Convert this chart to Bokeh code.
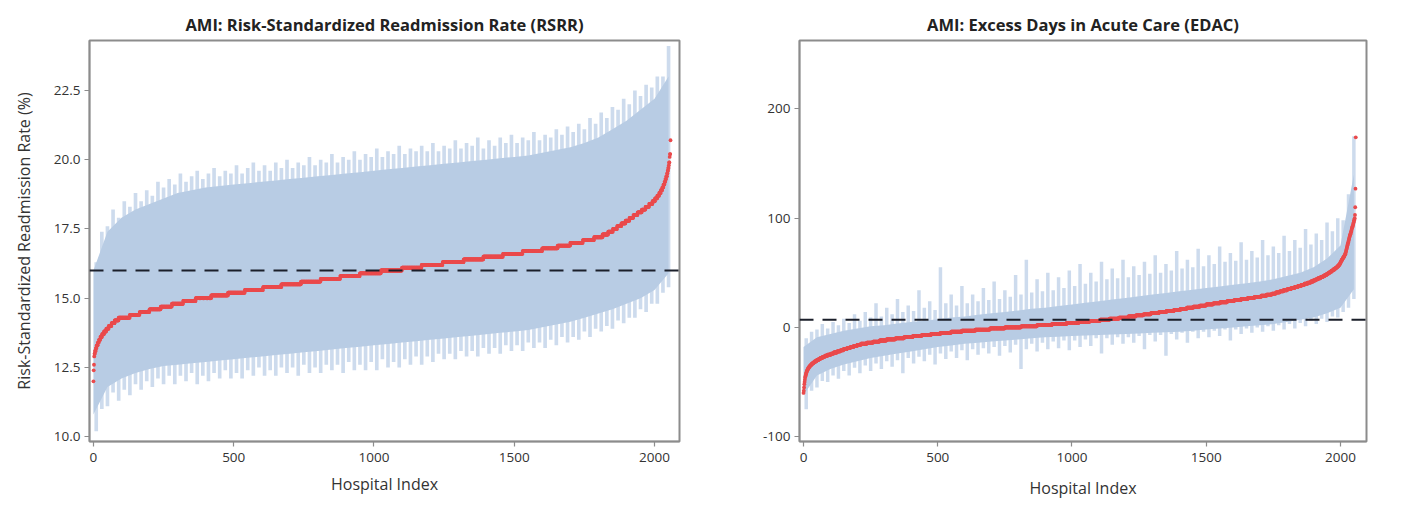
import numpy as np
from bokeh.plotting import figure
from bokeh.layouts import row
from bokeh.models import Span, Label, FixedTicker, Range1d, NumeralTickFormatter
from bokeh.embed import file_html
from bokeh.resources import INLINE

# ---------------- RSRR (left panel) ----------------
rsrr_title = "AMI: Risk-Standardized Readmission Rate (RSRR)"
rsrr_ylabel = "Risk-Standardized Readmission Rate (%)"
rsrr_average = 16.0
rsrr_yticks = [10.0, 12.5, 15.0, 17.5, 20.0, 22.5]

# sorted hospital RSRR values as (level, number of hospitals at that level)
rsrr_levels = [12.0, 12.4, 12.6, 12.9,
               13.0, 13.1, 13.2, 13.3, 13.4, 13.5, 13.6, 13.7, 13.8, 13.9,
               14.0, 14.1, 14.2, 14.3, 14.4, 14.5, 14.6, 14.7, 14.8, 14.9,
               15.0, 15.1, 15.2, 15.3, 15.4, 15.5, 15.6, 15.7, 15.8, 15.9,
               16.0, 16.1, 16.2, 16.3, 16.4, 16.5, 16.6, 16.7, 16.8, 16.9,
               17.0, 17.1, 17.2, 17.3, 17.4, 17.5, 17.6, 17.7, 17.8, 17.9,
               18.0, 18.1, 18.2, 18.3, 18.4, 18.5, 18.6, 18.7, 18.8, 18.9,
               19.0, 19.1, 19.2, 19.3, 19.4, 19.5, 19.6, 19.7, 19.8, 19.9,
               20.1, 20.2, 20.7]
rsrr_counts = [1, 1, 1, 1,
               2, 3, 3, 4, 4, 5, 6, 7, 8, 9,
               10, 11, 14, 40, 35, 35, 40, 40, 40, 45,
               55, 60, 60, 65, 65, 70, 70, 70, 70, 75,
               75, 70, 75, 75, 70, 70, 70, 70, 55, 45,
               45, 40, 30, 20, 17, 15, 15, 15, 14, 14,
               15, 15, 13, 13, 12, 9, 8, 7, 6, 5,
               4, 4, 3, 3, 3, 2, 2, 2, 1, 2,
               1, 2, 1]

# interval extremes, one value per block of 20 hospitals (index 0, 20, ... 2040)
rsrr_upper_tip = [16.3, 17.4, 17.6, 18.2, 17.9, 18.5, 18.3, 18.8, 18.5, 18.9,
                  18.7, 19.2, 19.0, 19.3, 19.1, 19.5, 19.2, 19.4, 19.6, 19.3,
                  19.5, 19.7, 19.4, 19.6, 19.5, 19.8, 19.5, 19.7, 19.9, 19.6,
                  19.8, 19.6, 19.9, 19.7, 20.0, 19.7, 19.9, 19.8, 20.1, 19.8,
                  20.0, 19.9, 20.2, 19.9, 20.1, 20.0, 20.3, 20.0, 20.2, 20.1,
                  20.4, 20.1, 20.3, 20.2, 20.5, 20.2, 20.4, 20.3, 20.5, 20.3,
                  20.6, 20.3, 20.5, 20.4, 20.7, 20.4, 20.6, 20.5, 20.8, 20.4,
                  20.7, 20.5, 20.8, 20.6, 20.9, 20.6, 20.8, 20.7, 21.0, 20.7,
                  20.9, 20.8, 21.1, 20.9, 21.2, 21.0, 21.3, 21.1, 21.5, 21.3,
                  21.7, 21.5, 21.9, 21.8, 22.2, 22.0, 22.5, 22.3, 22.7, 22.6,
                  23.0, 23.0, 24.1]
rsrr_lower_tip = [10.2, 11.0, 11.1, 11.6, 11.3, 11.7, 11.5, 11.9, 11.7, 12.0,
                  11.8, 12.1, 11.9, 12.2, 11.9, 12.2, 12.0, 12.3, 11.9, 12.2,
                  12.0, 12.3, 12.1, 12.4, 12.1, 12.3, 12.1, 12.4, 12.2, 12.5,
                  12.2, 12.4, 12.2, 12.5, 12.3, 12.5, 12.2, 12.6, 12.3, 12.5,
                  12.3, 12.6, 12.4, 12.6, 12.3, 12.7, 12.4, 12.6, 12.4, 12.7,
                  12.4, 12.8, 12.5, 12.7, 12.5, 12.8, 12.6, 12.9, 12.6, 12.9,
                  12.7, 13.0, 12.8, 13.0, 12.8, 13.1, 12.9, 13.1, 12.9, 13.2,
                  13.0, 13.2, 13.0, 13.3, 13.1, 13.3, 13.1, 13.4, 13.2, 13.4,
                  13.2, 13.5, 13.3, 13.6, 13.4, 13.6, 13.5, 13.8, 13.6, 13.9,
                  13.8, 14.0, 13.9, 14.2, 14.1, 14.3, 14.3, 14.6, 14.5, 14.8,
                  14.8, 15.2, 15.4]
# dense part of the intervals, every 50 hospitals (index 0, 50, ... 2050)
rsrr_upper_body = [16.0, 17.4, 17.9, 18.2, 18.4, 18.6, 18.8, 18.9, 19.0, 19.05,
                   19.1, 19.15, 19.2, 19.25, 19.3, 19.35, 19.4, 19.45, 19.5, 19.55,
                   19.6, 19.65, 19.7, 19.75, 19.8, 19.85, 19.9, 19.95, 20.0, 20.05,
                   20.1, 20.15, 20.25, 20.35, 20.45, 20.6, 20.8, 21.1, 21.4, 21.8,
                   22.2, 23.0]
rsrr_lower_body = [10.8, 11.8, 12.1, 12.3, 12.45, 12.55, 12.6, 12.65, 12.7, 12.75,
                   12.8, 12.85, 12.9, 12.95, 13.0, 13.05, 13.1, 13.15, 13.2, 13.25,
                   13.3, 13.35, 13.4, 13.45, 13.5, 13.55, 13.6, 13.65, 13.7, 13.75,
                   13.8, 13.85, 13.95, 14.05, 14.15, 14.3, 14.45, 14.6, 14.8, 15.0,
                   15.3, 15.9]

# ---------------- EDAC (right panel) ----------------
edac_title = "AMI: Excess Days in Acute Care (EDAC)"
edac_average = 7.0
edac_yticks = [-100, 0, 100, 200]

edac_levels = [-60, -58, -55, -52, -50, -48, -46, -45, -44, -43, -42, -41,
               -40, -39, -38, -37, -36, -35, -34, -33, -32, -31, -30, -29, -28, -27, -26, -25, -24, -23, -22, -21,
               -20, -19, -18, -17, -16, -15, -14, -13, -12, -11, -10, -9, -8, -7, -6, -5, -4, -3, -2, -1,
               0, 1, 2, 3, 4, 5, 6, 7, 8, 9, 10, 11, 12, 13, 14, 15, 16, 17, 18, 19,
               20, 21, 22, 23, 24, 25, 26, 27, 28, 29, 30, 31, 32, 33, 34, 35, 36, 37, 38, 39,
               40, 41, 42, 43, 44, 45, 46, 47, 48, 49, 50, 51, 52, 53, 54, 55, 56, 57, 58, 59,
               60, 61, 62, 63, 64, 65, 66, 67, 68, 69, 70, 71, 72, 73, 74, 75, 76, 77, 78, 79,
               80, 81, 82, 83, 84, 85, 86, 87, 88, 89, 90, 91, 92, 93, 94, 95, 96, 97, 98, 99,
               100, 103, 110, 127, 174]
edac_counts = [1, 1, 1, 1, 1, 1, 1, 1, 1, 1, 1, 1,
               2, 2, 2, 3, 3, 4, 4, 5, 6, 6, 7, 7, 8, 9, 10, 12, 11, 12, 12, 12,
               13, 12, 13, 13, 14, 22, 23, 25, 25, 33, 33, 32, 33, 35, 35, 40, 40, 50, 55, 55,
               60, 60, 55, 55, 45, 40, 40, 35, 35, 35, 28, 28, 28, 30, 28, 28, 24, 24, 24, 24,
               24, 26, 26, 26, 26, 26, 25, 25, 25, 20, 20, 15, 14, 14, 14, 14, 14, 12, 12, 12,
               12, 12, 9, 9, 9, 9, 9, 7, 7, 6, 6, 6, 6, 6, 5, 5, 4, 3, 3, 2,
               2, 2, 3, 2, 3, 2, 2, 2, 1, 1, 1, 1, 1, 1, 1, 1, 1, 1, 1, 1,
               1, 1, 1, 1, 1, 2, 1, 1, 1, 1, 1, 1, 2, 1, 1, 1, 1, 1, 1, 1,
               1, 1, 1, 1, 1]

edac_upper_tip = [-10, -4, -2, 3, -1, 5, 2, 8, 4, 12,
                  6, 14, 9, 22, 10, 18, 12, 26, 14, 20,
                  15, 34, 18, 24, 16, 55, 22, 30, 20, 38,
                  22, 30, 24, 36, 25, 42, 26, 34, 28, 48,
                  30, 62, 32, 44, 33, 50, 34, 46, 36, 52,
                  38, 58, 40, 50, 42, 60, 44, 54, 45, 62,
                  46, 56, 48, 60, 49, 66, 50, 58, 52, 70,
                  54, 62, 55, 72, 56, 66, 58, 74, 60, 68,
                  61, 78, 62, 70, 64, 80, 66, 74, 68, 84,
                  70, 80, 73, 90, 76, 86, 80, 96, 88, 100,
                  98, 122, 175]
edac_lower_tip = [-75, -58, -55, -49, -50, -44, -47, -40, -44, -37,
                  -42, -35, -40, -33, -38, -31, -36, -30, -42, -28,
                  -33, -27, -31, -25, -34, -24, -29, -22, -28, -21,
                  -30, -20, -25, -19, -24, -18, -26, -17, -23, -16,
                  -38, -20, -15, -22, -14, -20, -13, -19, -12, -21,
                  -12, -18, -11, -17, -10, -24, -10, -16, -9, -15,
                  -9, -14, -8, -20, -7, -13, -7, -26, -6, -11,
                  -5, -14, -4, -10, -4, -9, -3, -8, -2, -12,
                  -2, -6, -1, -5, 0, -4, 1, -3, 2, -2,
                  3, -1, 4, 1, 6, 3, 8, 5, 10, 9,
                  14, 18, 26]
edac_upper_body = [-18, -9, -6, -3, -1, 1, 2, 3.5, 5, 6,
                   7.5, 9, 10, 11.5, 13, 14, 15.5, 17, 18, 19.5,
                   21, 22.5, 24, 25.5, 27, 28.5, 30, 31.5, 33, 34.5,
                   36, 37.5, 39, 40.5, 42, 44, 47, 50, 55, 63,
                   75, 140]
edac_lower_body = [-62, -44, -38, -34, -31, -28, -26, -24, -22, -20,
                   -18, -16.5, -15, -14, -13, -12, -11, -10, -9, -8.5,
                   -8, -7.5, -7, -6.5, -6, -5.5, -5, -4.5, -4, -3,
                   -2, -1, 0, 1, 2, 3, 5, 7, 9, 13,
                   18, 35]

xticks = [0, 500, 1000, 1500, 2000]
xlabel = "Hospital Index"

FONT = "Open Sans"
TIP_COLOR = "#cddbed"
BODY_COLOR = "#b8cce4"
RED = "#ea4a4c"
GRAY = "#8c8c8c"
TXT = "#333333"


def panel(title, ylabel, levels, counts, up_tip, lo_tip, up_body, lo_body,
          average, yticks, yfmt, xr, yr, width, borders, xlab_standoff):
    left_b, right_b, top_b, bottom_b = borders
    p = figure(width=width, height=523, output_backend="svg", toolbar_location=None,
               x_range=Range1d(*xr), y_range=Range1d(*yr),
               min_border_left=left_b, min_border_right=right_b,
               min_border_top=top_b, min_border_bottom=bottom_b)
    p.title.text = title
    p.title.align = "center"
    p.title.text_font = FONT
    p.title.text_font_style = "bold"
    p.title.text_font_size = "16.5px"
    p.title.text_color = "#222222"
    p.title.standoff = 9

    values = np.repeat(np.array(levels, dtype=float), counts)
    n = len(values)
    idx = np.arange(n)

    # thin spikes reaching the interval extremes
    tip_x = np.arange(len(up_tip)) * 20 + 10
    p.vbar(x=tip_x, width=13, top=up_tip, bottom=lo_tip,
           fill_color=TIP_COLOR, line_color=None)
    body_x = np.arange(len(up_body)) * 50
    p.varea(x=body_x, y1=lo_body, y2=up_body, fill_color=BODY_COLOR)

    p.scatter(idx, values, size=3.8, marker="circle", fill_color=RED, line_color=None)

    p.add_layout(Span(location=average, dimension="width", line_color="#1b1f2a",
                      line_width=2.2, line_dash="14 9"))
    p.add_layout(Label(x=xr[1], y=average, x_offset=6, text="Average",
                       text_baseline="middle", text_align="left",
                       text_font=FONT, text_font_size="14px", text_color=TXT))

    p.xgrid.visible = False
    p.ygrid.visible = False
    p.outline_line_color = GRAY
    p.outline_line_width = 2
    for ax in (p.xaxis[0], p.yaxis[0]):
        ax.axis_line_color = GRAY
        ax.axis_line_width = 1.5
        ax.major_tick_line_color = GRAY
        ax.major_tick_line_width = 1.2
        ax.major_tick_out = 5
        ax.major_tick_in = 0
        ax.minor_tick_line_color = None
        ax.major_label_text_font = FONT
        ax.major_label_text_font_size = "13.5px"
        ax.major_label_text_color = TXT
        ax.axis_label_text_font = FONT
        ax.axis_label_text_font_size = "16px"
        ax.axis_label_text_font_style = "normal"
        ax.axis_label_text_color = TXT
    p.xaxis.ticker = FixedTicker(ticks=xticks)
    p.xaxis.axis_label = xlabel
    p.xaxis.axis_label_standoff = xlab_standoff
    p.xaxis.major_label_standoff = 6
    p.yaxis.ticker = FixedTicker(ticks=yticks)
    p.yaxis.formatter = NumeralTickFormatter(format=yfmt)
    if ylabel:
        p.yaxis.axis_label = ylabel
        p.yaxis.axis_label_standoff = 16
    p.yaxis.major_label_standoff = 4
    p.background_fill_color = "white"
    p.border_fill_color = "white"
    return p


p1 = panel(rsrr_title, rsrr_ylabel, rsrr_levels, rsrr_counts,
           rsrr_upper_tip, rsrr_lower_tip, rsrr_upper_body, rsrr_lower_body,
           rsrr_average, rsrr_yticks, "0.0", (-14, 2089), (9.83, 24.3),
           745, (89, 66, 40, 62), 8)
p2 = panel(edac_title, None, edac_levels, edac_counts,
           edac_upper_tip, edac_lower_tip, edac_upper_body, edac_lower_body,
           edac_average, edac_yticks, "0", (-15, 2097), (-104.5, 262.7),
           681, (54, 60, 37, 82), 12)

layout = row(p1, p2)
open("out.html", "w").write(file_html(layout, INLINE))
